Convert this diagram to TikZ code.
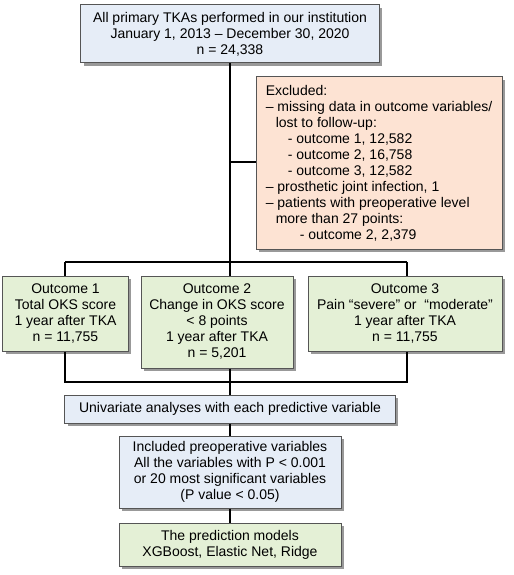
\documentclass[tikz,border=0pt]{standalone}
\usepackage{fontspec}
\setmainfont{Liberation Sans}
\usetikzlibrary{shadows}
\definecolor{bluefill}{HTML}{E6EDF7}
\definecolor{peachfill}{HTML}{FDE3D3}
\definecolor{greenfill}{HTML}{E4F0D6}
\definecolor{boxline}{HTML}{555555}
\tikzset{
  box/.style={draw=boxline, line width=1bp, rectangle, inner sep=0pt, align=center,
    font=\fontsize{14bp}{16bp}\selectfont,
    drop shadow={shadow xshift=3bp, shadow yshift=-3bp, opacity=0.4, fill=black}},
  bluebox/.style={box, fill=bluefill},
  peachbox/.style={box, fill=peachfill},
  greenbox/.style={box, fill=greenfill},
  conn/.style={line width=2bp, black},
}
\begin{document}
\begin{tikzpicture}[x=1bp,y=-1bp]
\useasboundingbox (0,0) rectangle (514,575);
\node[bluebox, minimum width=298bp, minimum height=58bp] (top) at (230,34)
  {All primary TKAs performed in our institution\\January 1, 2013 – December 30, 2020\\n = 24,338};
\node[peachbox, minimum width=246bp, minimum height=172bp, align=left] (excl) at (379,163)
  {Excluded:\\
   – missing data in outcome variables/\\
   \hspace*{10bp}lost to follow-up:\\
   \hspace*{22bp}- outcome 1, 12,582\\
   \hspace*{22bp}- outcome 2, 16,758\\
   \hspace*{22bp}- outcome 3, 12,582\\
   – prosthetic joint infection, 1\\
   – patients with preoperative level\\
   \hspace*{10bp}more than 27 points:\\
   \hspace*{34bp}- outcome 2, 2,379};
\node[greenbox, minimum width=125bp, minimum height=75bp] (o1) at (65.5,313.5)
  {Outcome 1\\Total OKS score\\1 year after TKA\\n = 11,755};
\node[greenbox, minimum width=152bp, minimum height=92bp] (o2) at (217,322)
  {Outcome 2\\Change in OKS score\\< 8 points\\1 year after TKA\\n = 5,201};
\node[greenbox, minimum width=194bp, minimum height=75bp] (o3) at (405,313.5)
  {Outcome 3\\Pain “severe” or \ “moderate”\\1 year after TKA\\n = 11,755};
\node[bluebox, minimum width=330bp, minimum height=28bp] (uni) at (230,409)
  {Univariate analyses with each predictive variable};
\node[bluebox, minimum width=222bp, minimum height=72bp] (incl) at (230,472)
  {Included preoperative variables\\All the variables with P < 0.001\\or 20 most significant variables\\(P value < 0.05)};
\node[greenbox, minimum width=222bp, minimum height=43bp] (pred) at (230,544.5)
  {The prediction models\\XGBoost, Elastic Net, Ridge};

\coordinate (sp) at (230,262);
\coordinate (bl) at (65,262);
\coordinate (br) at (407,262);
\coordinate (jn) at (230,382);
\coordinate (jl) at (65,382);
\coordinate (jr) at (407,382);

\draw[conn] (top.south -| sp) -- (sp);
\draw[conn] (excl.west |- 0,162) -- (230,162);
\draw[conn] (bl) -- (br);
\draw[conn] (bl) -- (o1.north -| bl);
\draw[conn] (sp) -- (o2.north -| sp);
\draw[conn] (br) -- (o3.north -| br);
\draw[conn] (o1.south -| jl) -- (jl) -- (jr) -- (o3.south -| jr);
\draw[conn] (o2.south -| jn) -- (jn) -- (uni.north -| jn);
\draw[conn] (uni.south -| jn) -- (incl.north -| jn);
\draw[conn] (incl.south -| jn) -- (pred.north -| jn);
\end{tikzpicture}
\end{document}
